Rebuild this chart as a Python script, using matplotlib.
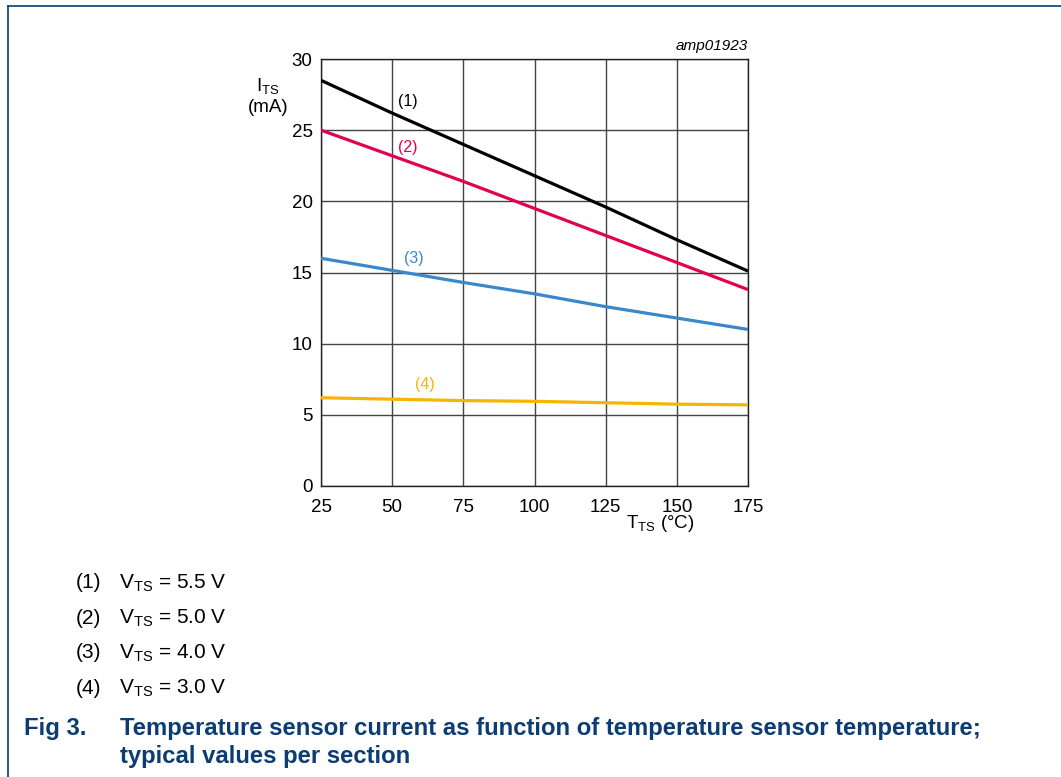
import matplotlib
matplotlib.use("Agg")
import matplotlib.pyplot as plt
from matplotlib.lines import Line2D

plt.rcParams['font.family'] = ['Liberation Sans', 'DejaVu Sans']
plt.rcParams['mathtext.fontset'] = 'custom'
plt.rcParams['mathtext.rm'] = 'Liberation Sans'
plt.rcParams['mathtext.it'] = 'Liberation Sans:italic'
plt.rcParams['mathtext.bf'] = 'Liberation Sans:bold'

# ---------------- data ----------------
temps = [25, 50, 75, 100, 125, 150, 175]
i_55 = [28.5, 26.2, 24.0, 21.8, 19.6, 17.3, 15.1]
i_50 = [25.0, 23.2, 21.4, 19.5, 17.6, 15.7, 13.8]
i_40 = [16.0, 15.15, 14.3, 13.5, 12.6, 11.8, 11.0]
i_30 = [6.2, 6.1, 6.0, 5.95, 5.85, 5.75, 5.7]
series_labels = ['(1)', '(2)', '(3)', '(4)']
legend_texts = ['V$_{\\mathrm{TS}}$ = 5.5 V', 'V$_{\\mathrm{TS}}$ = 5.0 V',
                'V$_{\\mathrm{TS}}$ = 4.0 V', 'V$_{\\mathrm{TS}}$ = 3.0 V']
x_ticks = [25, 50, 75, 100, 125, 150, 175]
y_ticks = [0, 5, 10, 15, 20, 25, 30]
label_pos = [(55.5, 27.0), (55.5, 23.8), (57.5, 16.0), (61.5, 7.1)]

colors = ['#000000', '#E2004F', '#3A88CB', '#F6B500']
NAVY = '#0B3C73'

W, H = 1061, 777
fig = plt.figure(figsize=(W / 100, H / 100), dpi=100)

def fx(px):
    return px / W

def fy(py):
    return 1 - py / H

# frame lines
fig.add_artist(Line2D([fx(8), fx(8)], [fy(6), 0], color=NAVY, lw=1.2))
fig.add_artist(Line2D([fx(8), 1], [fy(6), fy(6)], color=NAVY, lw=1.2))

ax = fig.add_axes([fx(321), fy(486), fx(748) - fx(321), (486 - 59) / H])
for ys, c in zip([i_55, i_50, i_40, i_30], colors):
    ax.plot(temps, ys, color=c, lw=2.3, solid_capstyle='butt', zorder=3)
for (lx, ly), lab, c in zip(label_pos, series_labels, colors):
    ax.text(lx, ly, lab, color=c, fontsize=11.5, ha='center', va='center')

ax.set_xlim(25, 175)
ax.set_ylim(0, 30)
ax.set_xticks(x_ticks)
ax.set_yticks(y_ticks)
ax.set_xticklabels([str(v) for v in x_ticks], fontsize=13.5)
ax.set_yticklabels([str(v) for v in y_ticks], fontsize=13.5)
ax.tick_params(length=0, pad=6)
ax.tick_params(axis='x', pad=9)
ax.grid(True, color='#444444', lw=1.0)
for s in ax.spines.values():
    s.set_color('#222222')
    s.set_linewidth(1.0)

fig.text(fx(268), fy(86), 'I$_{\\mathrm{TS}}$', fontsize=13.5, ha='center', va='center')
fig.text(fx(268), fy(107), '(mA)', fontsize=13.5, ha='center', va='center')
fig.text(fx(660), fy(524), 'T$_{\\mathrm{TS}}$ (°C)', fontsize=13.5, ha='center', va='center')
fig.text(fx(748), fy(46), 'amp01923', fontsize=11, style='italic', ha='right', va='center')

for k, (lab, txt) in enumerate(zip(series_labels, legend_texts)):
    yy = 583 + k * 35
    fig.text(fx(76), fy(yy), lab, fontsize=15, ha='left', va='center')
    fig.text(fx(119), fy(yy), txt, fontsize=15, ha='left', va='center')

fig.text(fx(24), fy(728), 'Fig 3.', fontsize=17.2, fontweight='bold', color=NAVY,
         ha='left', va='center')
fig.text(fx(120), fy(728),
         'Temperature sensor current as function of temperature sensor temperature;',
         fontsize=17.2, fontweight='bold', color=NAVY, ha='left', va='center')
fig.text(fx(120), fy(756), 'typical values per section',
         fontsize=17.2, fontweight='bold', color=NAVY, ha='left', va='center')

fig.savefig('out.png', dpi=100)
